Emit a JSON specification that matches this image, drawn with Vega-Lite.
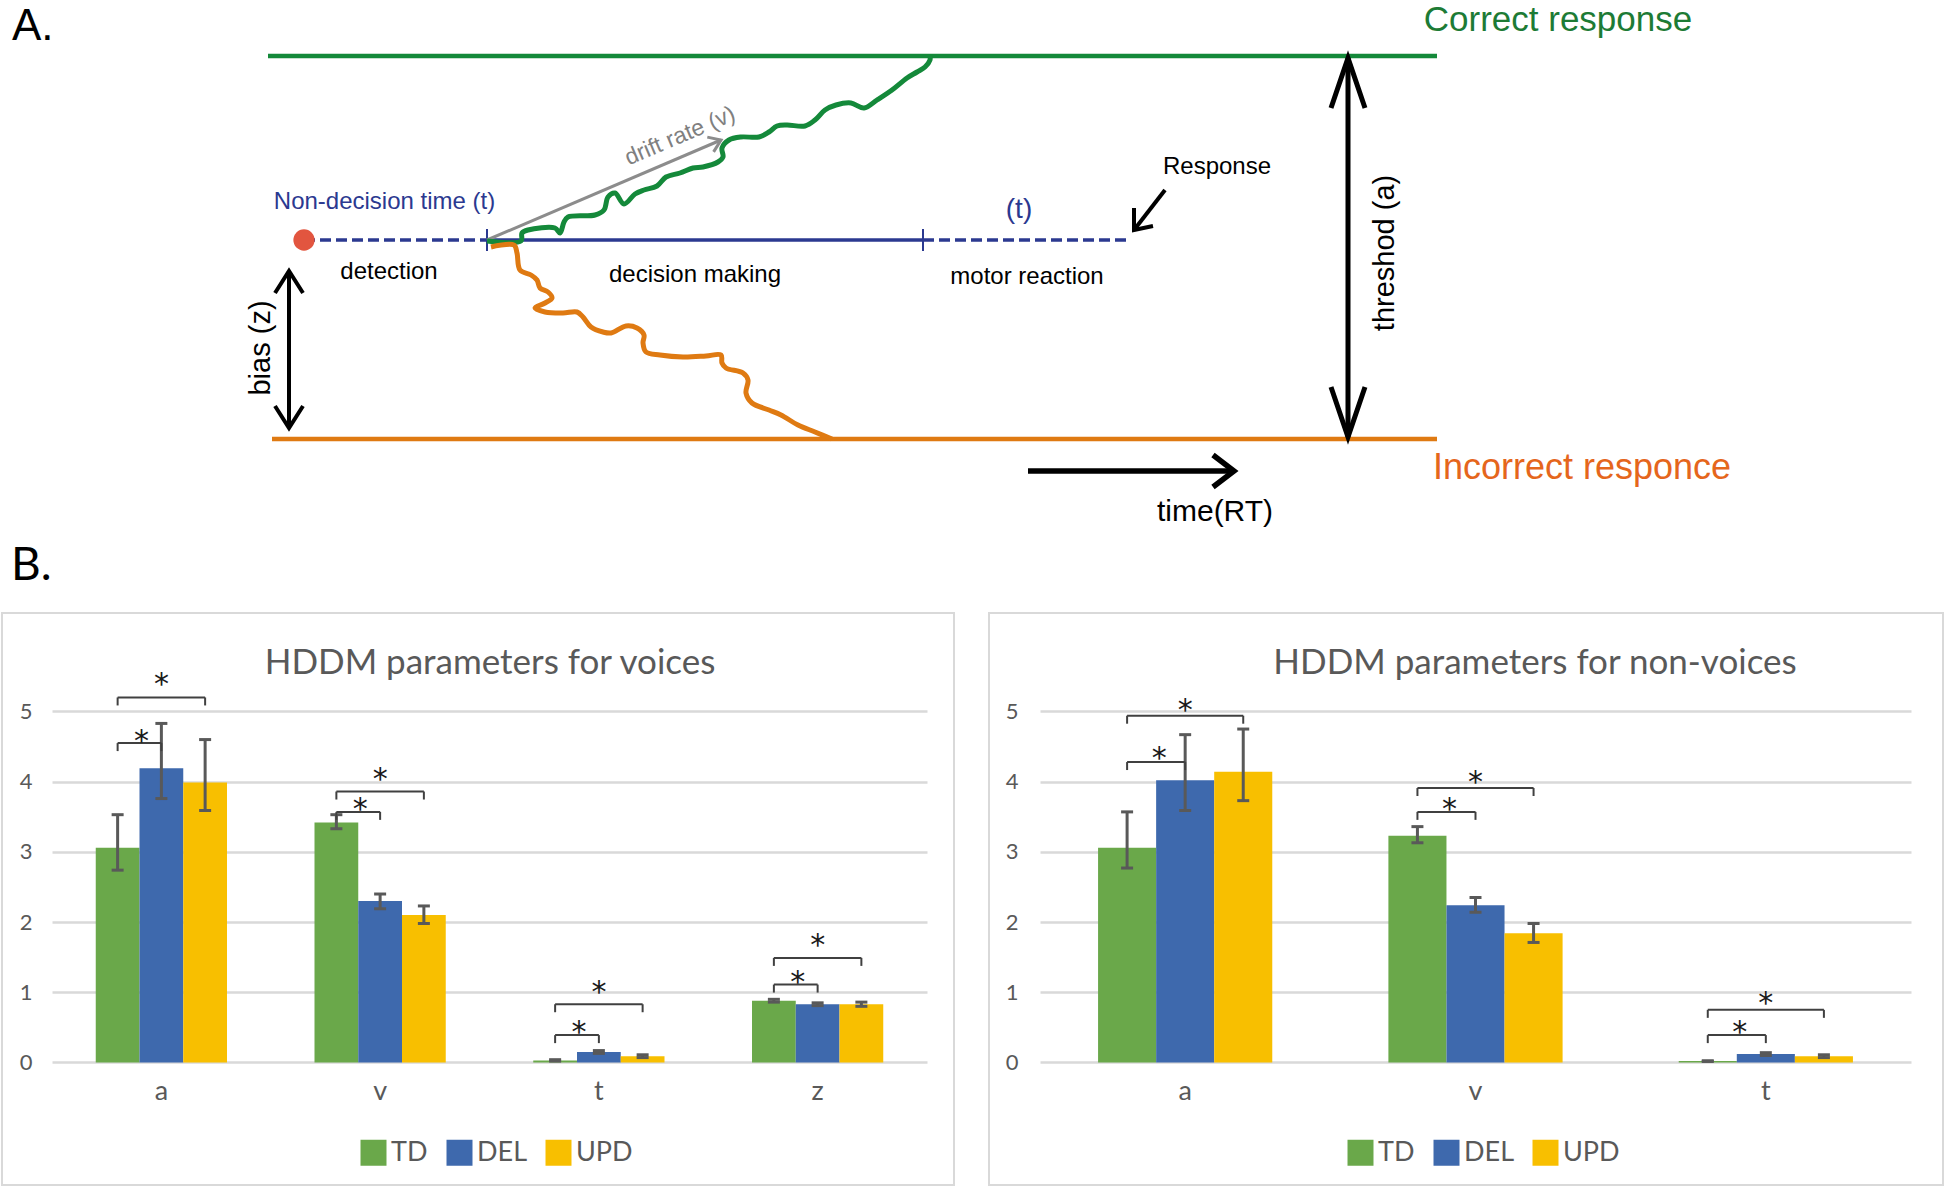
{
  "$schema": "https://vega.github.io/schema/vega-lite/v6.json",
  "padding": {"left": 1, "top": 0, "right": 0, "bottom": 0},
  "background": "white",
  "spacing": 12,
  "config": {"font": "Liberation Sans", "view": {"stroke": null}},
  "datasets": {
    "paths": [
      {"el": "upper", "i": 1, "x": -0.36, "y": 3.83}, {"el": "upper", "i": 2, "x": 11.33, "y": 3.83},
      {"el": "lower", "i": 1, "x": -0.32, "y": 0}, {"el": "lower", "i": 2, "x": 11.33, "y": 0},
      {"el": "detection", "i": 1, "x": 0, "y": 1.99}, {"el": "detection", "i": 2, "x": 1.83, "y": 1.99},
      {"el": "decision", "i": 1, "x": 1.83, "y": 1.99}, {"el": "decision", "i": 2, "x": 6.19, "y": 1.99},
      {"el": "motor", "i": 1, "x": 6.19, "y": 1.99}, {"el": "motor", "i": 2, "x": 8.26, "y": 1.99},
      {"el": "tick1", "i": 1, "x": 1.83, "y": 2.1}, {"el": "tick1", "i": 2, "x": 1.83, "y": 1.88},
      {"el": "tick2", "i": 1, "x": 6.19, "y": 2.1}, {"el": "tick2", "i": 2, "x": 6.19, "y": 1.88},
      {"el": "drift", "i": 1, "x": 1.83, "y": 1.99}, {"el": "drift", "i": 2, "x": 4.17, "y": 2.99},
      {"el": "drift_head", "i": 1, "x": 4.033, "y": 3.019}, {"el": "drift_head", "i": 2, "x": 4.17, "y": 2.99}, {"el": "drift_head", "i": 3, "x": 4.096, "y": 2.871},
      {"el": "bias", "i": 1, "x": -0.15, "y": 1.68}, {"el": "bias", "i": 2, "x": -0.15, "y": 0.11},
      {"el": "bias_head_top", "i": 1, "x": -0.29, "y": 1.46}, {"el": "bias_head_top", "i": 2, "x": -0.15, "y": 1.68}, {"el": "bias_head_top", "i": 3, "x": -0.01, "y": 1.46},
      {"el": "bias_head_bottom", "i": 1, "x": -0.29, "y": 0.33}, {"el": "bias_head_bottom", "i": 2, "x": -0.15, "y": 0.11}, {"el": "bias_head_bottom", "i": 3, "x": -0.01, "y": 0.33},
      {"el": "threshold", "i": 1, "x": 10.44, "y": 3.81}, {"el": "threshold", "i": 2, "x": 10.44, "y": 0.02},
      {"el": "threshold_head_top", "i": 1, "x": 10.27, "y": 3.31}, {"el": "threshold_head_top", "i": 2, "x": 10.44, "y": 3.81}, {"el": "threshold_head_top", "i": 3, "x": 10.61, "y": 3.31},
      {"el": "threshold_head_bottom", "i": 1, "x": 10.27, "y": 0.52}, {"el": "threshold_head_bottom", "i": 2, "x": 10.44, "y": 0.02}, {"el": "threshold_head_bottom", "i": 3, "x": 10.61, "y": 0.52},
      {"el": "time", "i": 1, "x": 7.24, "y": -0.32}, {"el": "time", "i": 2, "x": 9.3, "y": -0.32},
      {"el": "time_head", "i": 1, "x": 9.09, "y": -0.16}, {"el": "time_head", "i": 2, "x": 9.3, "y": -0.32}, {"el": "time_head", "i": 3, "x": 9.09, "y": -0.48},
      {"el": "response", "i": 1, "x": 8.61, "y": 2.49}, {"el": "response", "i": 2, "x": 8.3, "y": 2.09},
      {"el": "response_head", "i": 1, "x": 8.3, "y": 2.31}, {"el": "response_head", "i": 2, "x": 8.3, "y": 2.09}, {"el": "response_head", "i": 3, "x": 8.49, "y": 2.13},
      {"el": "correct", "i": 1, "x": 1.83, "y": 1.98}, {"el": "correct", "i": 2, "x": 2.17, "y": 1.98},
      {"el": "correct", "i": 3, "x": 2.18, "y": 2.06}, {"el": "correct", "i": 4, "x": 2.24, "y": 2.09},
      {"el": "correct", "i": 5, "x": 2.51, "y": 2.11}, {"el": "correct", "i": 6, "x": 2.56, "y": 2.06},
      {"el": "correct", "i": 7, "x": 2.6, "y": 2.17}, {"el": "correct", "i": 8, "x": 2.64, "y": 2.22},
      {"el": "correct", "i": 9, "x": 2.91, "y": 2.24}, {"el": "correct", "i": 10, "x": 3.0, "y": 2.29},
      {"el": "correct", "i": 11, "x": 3.04, "y": 2.42}, {"el": "correct", "i": 12, "x": 3.11, "y": 2.46},
      {"el": "correct", "i": 13, "x": 3.2, "y": 2.35}, {"el": "correct", "i": 14, "x": 3.31, "y": 2.45},
      {"el": "correct", "i": 15, "x": 3.4, "y": 2.49}, {"el": "correct", "i": 16, "x": 3.53, "y": 2.53},
      {"el": "correct", "i": 17, "x": 3.62, "y": 2.62}, {"el": "correct", "i": 18, "x": 3.76, "y": 2.66},
      {"el": "correct", "i": 19, "x": 3.89, "y": 2.71}, {"el": "correct", "i": 20, "x": 3.99, "y": 2.72},
      {"el": "correct", "i": 21, "x": 4.14, "y": 2.77}, {"el": "correct", "i": 22, "x": 4.19, "y": 2.82},
      {"el": "correct", "i": 23, "x": 4.18, "y": 2.91}, {"el": "correct", "i": 24, "x": 4.25, "y": 2.99},
      {"el": "correct", "i": 25, "x": 4.37, "y": 3.02}, {"el": "correct", "i": 26, "x": 4.55, "y": 3.02},
      {"el": "correct", "i": 27, "x": 4.65, "y": 3.07}, {"el": "correct", "i": 28, "x": 4.73, "y": 3.13},
      {"el": "correct", "i": 29, "x": 4.83, "y": 3.14}, {"el": "correct", "i": 30, "x": 5.01, "y": 3.13},
      {"el": "correct", "i": 31, "x": 5.11, "y": 3.19}, {"el": "correct", "i": 32, "x": 5.21, "y": 3.29},
      {"el": "correct", "i": 33, "x": 5.32, "y": 3.34}, {"el": "correct", "i": 34, "x": 5.47, "y": 3.36},
      {"el": "correct", "i": 35, "x": 5.6, "y": 3.31}, {"el": "correct", "i": 36, "x": 5.73, "y": 3.39},
      {"el": "correct", "i": 37, "x": 5.88, "y": 3.49}, {"el": "correct", "i": 38, "x": 6.03, "y": 3.61},
      {"el": "correct", "i": 39, "x": 6.13, "y": 3.67}, {"el": "correct", "i": 40, "x": 6.21, "y": 3.72},
      {"el": "correct", "i": 41, "x": 6.26, "y": 3.79}, {"el": "correct", "i": 42, "x": 6.26, "y": 3.83},
      {"el": "incorrect", "i": 1, "x": 1.87, "y": 1.92}, {"el": "incorrect", "i": 2, "x": 2.1, "y": 1.94},
      {"el": "incorrect", "i": 3, "x": 2.13, "y": 1.86}, {"el": "incorrect", "i": 4, "x": 2.16, "y": 1.69},
      {"el": "incorrect", "i": 5, "x": 2.27, "y": 1.64}, {"el": "incorrect", "i": 6, "x": 2.33, "y": 1.59},
      {"el": "incorrect", "i": 7, "x": 2.36, "y": 1.51}, {"el": "incorrect", "i": 8, "x": 2.44, "y": 1.47},
      {"el": "incorrect", "i": 9, "x": 2.48, "y": 1.41}, {"el": "incorrect", "i": 10, "x": 2.41, "y": 1.36},
      {"el": "incorrect", "i": 11, "x": 2.31, "y": 1.31}, {"el": "incorrect", "i": 12, "x": 2.41, "y": 1.27},
      {"el": "incorrect", "i": 13, "x": 2.59, "y": 1.26}, {"el": "incorrect", "i": 14, "x": 2.73, "y": 1.27},
      {"el": "incorrect", "i": 15, "x": 2.79, "y": 1.22}, {"el": "incorrect", "i": 16, "x": 2.87, "y": 1.12},
      {"el": "incorrect", "i": 17, "x": 2.99, "y": 1.07}, {"el": "incorrect", "i": 18, "x": 3.07, "y": 1.06},
      {"el": "incorrect", "i": 19, "x": 3.22, "y": 1.13}, {"el": "incorrect", "i": 20, "x": 3.33, "y": 1.11},
      {"el": "incorrect", "i": 21, "x": 3.4, "y": 1.04}, {"el": "incorrect", "i": 22, "x": 3.39, "y": 0.96},
      {"el": "incorrect", "i": 23, "x": 3.42, "y": 0.87}, {"el": "incorrect", "i": 24, "x": 3.56, "y": 0.84},
      {"el": "incorrect", "i": 25, "x": 3.79, "y": 0.82}, {"el": "incorrect", "i": 26, "x": 4.02, "y": 0.83},
      {"el": "incorrect", "i": 27, "x": 4.17, "y": 0.84}, {"el": "incorrect", "i": 28, "x": 4.18, "y": 0.76},
      {"el": "incorrect", "i": 29, "x": 4.22, "y": 0.71}, {"el": "incorrect", "i": 30, "x": 4.39, "y": 0.66},
      {"el": "incorrect", "i": 31, "x": 4.44, "y": 0.59}, {"el": "incorrect", "i": 32, "x": 4.42, "y": 0.46},
      {"el": "incorrect", "i": 33, "x": 4.48, "y": 0.36}, {"el": "incorrect", "i": 34, "x": 4.65, "y": 0.29},
      {"el": "incorrect", "i": 35, "x": 4.77, "y": 0.24}, {"el": "incorrect", "i": 36, "x": 4.94, "y": 0.14},
      {"el": "incorrect", "i": 37, "x": 5.11, "y": 0.07}, {"el": "incorrect", "i": 38, "x": 5.28, "y": 0.0}
    ],
    "onset": [{"x": 0, "y": 1.99}],
    "labels": [
      {"label": "A.", "x": -2.92, "y": 4.12},
      {"label": "B.", "x": -2.93, "y": -1.265},
      {"label": "Correct response", "x": 12.54, "y": 4.19},
      {"label": "Incorrect responce", "x": 12.78, "y": -0.29},
      {"label": "Non-decision time (t)", "x": 0.805, "y": 2.37},
      {"label": "(t)", "x": 7.15, "y": 2.29},
      {"label": "detection", "x": 0.85, "y": 1.67},
      {"label": "decision making", "x": 3.91, "y": 1.64},
      {"label": "motor reaction", "x": 7.23, "y": 1.62},
      {"label": "Response", "x": 9.13, "y": 2.72},
      {"label": "time(RT)", "x": 9.11, "y": -0.73},
      {"label": "bias (z)", "x": -0.43, "y": 0.91},
      {"label": "threshod (a)", "x": 10.81, "y": 1.86},
      {"label": "drift rate (v)", "x": 3.76, "y": 3.03}
    ],
    "bars": [
      {"chart": "voices", "param": "a", "group": "TD", "value": 3.06, "lo": 2.74, "hi": 3.53},
      {"chart": "voices", "param": "a", "group": "DEL", "value": 4.19, "lo": 3.76, "hi": 4.83},
      {"chart": "voices", "param": "a", "group": "UPD", "value": 3.99, "lo": 3.59, "hi": 4.6},
      {"chart": "voices", "param": "v", "group": "TD", "value": 3.42, "lo": 3.33, "hi": 3.53},
      {"chart": "voices", "param": "v", "group": "DEL", "value": 2.3, "lo": 2.19, "hi": 2.4},
      {"chart": "voices", "param": "v", "group": "UPD", "value": 2.1, "lo": 1.98, "hi": 2.23},
      {"chart": "voices", "param": "t", "group": "TD", "value": 0.03, "lo": 0.02, "hi": 0.04},
      {"chart": "voices", "param": "t", "group": "DEL", "value": 0.15, "lo": 0.13, "hi": 0.17},
      {"chart": "voices", "param": "t", "group": "UPD", "value": 0.09, "lo": 0.07, "hi": 0.11},
      {"chart": "voices", "param": "z", "group": "TD", "value": 0.88, "lo": 0.86, "hi": 0.9},
      {"chart": "voices", "param": "z", "group": "DEL", "value": 0.83, "lo": 0.81, "hi": 0.85},
      {"chart": "voices", "param": "z", "group": "UPD", "value": 0.83, "lo": 0.8, "hi": 0.86},
      {"chart": "non-voices", "param": "a", "group": "TD", "value": 3.06, "lo": 2.77, "hi": 3.57},
      {"chart": "non-voices", "param": "a", "group": "DEL", "value": 4.02, "lo": 3.59, "hi": 4.67},
      {"chart": "non-voices", "param": "a", "group": "UPD", "value": 4.14, "lo": 3.73, "hi": 4.75},
      {"chart": "non-voices", "param": "v", "group": "TD", "value": 3.23, "lo": 3.13, "hi": 3.36},
      {"chart": "non-voices", "param": "v", "group": "DEL", "value": 2.24, "lo": 2.14, "hi": 2.35},
      {"chart": "non-voices", "param": "v", "group": "UPD", "value": 1.84, "lo": 1.71, "hi": 1.98},
      {"chart": "non-voices", "param": "t", "group": "TD", "value": 0.02, "lo": 0.015, "hi": 0.025},
      {"chart": "non-voices", "param": "t", "group": "DEL", "value": 0.12, "lo": 0.1, "hi": 0.14},
      {"chart": "non-voices", "param": "t", "group": "UPD", "value": 0.09, "lo": 0.07, "hi": 0.11}
    ],
    "brackets": [
      {"chart": "voices", "id": "a1", "param": "a", "group": "TD", "y": 4.55}, {"chart": "voices", "id": "a1", "param": "a", "group": "DEL", "y": 4.55},
      {"chart": "voices", "id": "a2", "param": "a", "group": "TD", "y": 5.2}, {"chart": "voices", "id": "a2", "param": "a", "group": "UPD", "y": 5.2},
      {"chart": "voices", "id": "v1", "param": "v", "group": "TD", "y": 3.57}, {"chart": "voices", "id": "v1", "param": "v", "group": "DEL", "y": 3.57},
      {"chart": "voices", "id": "v2", "param": "v", "group": "TD", "y": 3.86}, {"chart": "voices", "id": "v2", "param": "v", "group": "UPD", "y": 3.86},
      {"chart": "voices", "id": "t1", "param": "t", "group": "TD", "y": 0.39}, {"chart": "voices", "id": "t1", "param": "t", "group": "DEL", "y": 0.39},
      {"chart": "voices", "id": "t2", "param": "t", "group": "TD", "y": 0.83}, {"chart": "voices", "id": "t2", "param": "t", "group": "UPD", "y": 0.83},
      {"chart": "voices", "id": "z1", "param": "z", "group": "TD", "y": 1.11}, {"chart": "voices", "id": "z1", "param": "z", "group": "DEL", "y": 1.11},
      {"chart": "voices", "id": "z2", "param": "z", "group": "TD", "y": 1.49}, {"chart": "voices", "id": "z2", "param": "z", "group": "UPD", "y": 1.49},
      {"chart": "non-voices", "id": "a1", "param": "a", "group": "TD", "y": 4.28}, {"chart": "non-voices", "id": "a1", "param": "a", "group": "DEL", "y": 4.28},
      {"chart": "non-voices", "id": "a2", "param": "a", "group": "TD", "y": 4.94}, {"chart": "non-voices", "id": "a2", "param": "a", "group": "UPD", "y": 4.94},
      {"chart": "non-voices", "id": "v1", "param": "v", "group": "TD", "y": 3.57}, {"chart": "non-voices", "id": "v1", "param": "v", "group": "DEL", "y": 3.57},
      {"chart": "non-voices", "id": "v2", "param": "v", "group": "TD", "y": 3.91}, {"chart": "non-voices", "id": "v2", "param": "v", "group": "UPD", "y": 3.91},
      {"chart": "non-voices", "id": "t1", "param": "t", "group": "TD", "y": 0.39}, {"chart": "non-voices", "id": "t1", "param": "t", "group": "DEL", "y": 0.39},
      {"chart": "non-voices", "id": "t2", "param": "t", "group": "TD", "y": 0.75}, {"chart": "non-voices", "id": "t2", "param": "t", "group": "UPD", "y": 0.75}
    ],
    "stars": [
      {"chart": "voices", "pair": "TD-DEL", "param": "a", "group": "DEL", "y": 4.67},
      {"chart": "voices", "pair": "TD-UPD", "param": "a", "group": "DEL", "y": 5.47},
      {"chart": "voices", "pair": "TD-DEL", "param": "v", "group": "DEL", "y": 3.7},
      {"chart": "voices", "pair": "TD-UPD", "param": "v", "group": "DEL", "y": 4.13},
      {"chart": "voices", "pair": "TD-DEL", "param": "t", "group": "DEL", "y": 0.52},
      {"chart": "voices", "pair": "TD-UPD", "param": "t", "group": "DEL", "y": 1.09},
      {"chart": "voices", "pair": "TD-DEL", "param": "z", "group": "DEL", "y": 1.23},
      {"chart": "voices", "pair": "TD-UPD", "param": "z", "group": "DEL", "y": 1.76},
      {"chart": "non-voices", "pair": "TD-DEL", "param": "a", "group": "DEL", "y": 4.42},
      {"chart": "non-voices", "pair": "TD-UPD", "param": "a", "group": "DEL", "y": 5.11},
      {"chart": "non-voices", "pair": "TD-DEL", "param": "v", "group": "DEL", "y": 3.7},
      {"chart": "non-voices", "pair": "TD-UPD", "param": "v", "group": "DEL", "y": 4.08},
      {"chart": "non-voices", "pair": "TD-DEL", "param": "t", "group": "DEL", "y": 0.52},
      {"chart": "non-voices", "pair": "TD-UPD", "param": "t", "group": "DEL", "y": 0.94}
    ]
  },
  "vconcat": [
    {
      "width": 1944,
      "height": 600,
      "view": {"stroke": null},
      "encoding": {
        "x": {"field": "x", "type": "quantitative", "scale": {"domain": [-3.02, 16.42], "nice": false, "zero": false}, "axis": null},
        "y": {"field": "y", "type": "quantitative", "scale": {"domain": [-1.61, 4.39], "nice": false, "zero": false}, "axis": null}
      },
      "layer": [
        {"data": {"name": "paths"}, "transform": [{"filter": {"field": "el", "equal": "upper"}}],
         "mark": {"type": "line", "color": "#14893a", "strokeWidth": 4.5}, "encoding": {"detail": {"field": "el"}, "order": {"field": "i", "type": "quantitative"}}},
        {"data": {"name": "paths"}, "transform": [{"filter": {"field": "el", "equal": "lower"}}],
         "mark": {"type": "line", "color": "#df7a12", "strokeWidth": 4.5}, "encoding": {"detail": {"field": "el"}, "order": {"field": "i", "type": "quantitative"}}},
        {"data": {"name": "paths"}, "transform": [{"filter": {"field": "el", "oneOf": ["detection", "motor"]}}],
         "mark": {"type": "line", "color": "#2b3990", "strokeWidth": 3.5, "strokeDash": [11, 5]}, "encoding": {"detail": {"field": "el"}, "order": {"field": "i", "type": "quantitative"}}},
        {"data": {"name": "paths"}, "transform": [{"filter": {"field": "el", "oneOf": ["decision"]}}],
         "mark": {"type": "line", "color": "#2b3990", "strokeWidth": 3.5}, "encoding": {"detail": {"field": "el"}, "order": {"field": "i", "type": "quantitative"}}},
        {"data": {"name": "paths"}, "transform": [{"filter": {"field": "el", "oneOf": ["tick1", "tick2"]}}],
         "mark": {"type": "line", "color": "#2b3990", "strokeWidth": 2}, "encoding": {"detail": {"field": "el"}, "order": {"field": "i", "type": "quantitative"}}},
        {"data": {"name": "paths"}, "transform": [{"filter": {"field": "el", "oneOf": ["drift", "drift_head"]}}],
         "mark": {"type": "line", "color": "#8c8c8c", "strokeWidth": 3, "strokeJoin": "miter"}, "encoding": {"detail": {"field": "el"}, "order": {"field": "i", "type": "quantitative"}}},
        {"data": {"name": "paths"}, "transform": [{"filter": {"field": "el", "equal": "correct"}}],
         "mark": {"type": "line", "color": "#14893a", "strokeWidth": 5, "interpolate": "catmull-rom", "strokeJoin": "round"}, "encoding": {"detail": {"field": "el"}, "order": {"field": "i", "type": "quantitative"}}},
        {"data": {"name": "paths"}, "transform": [{"filter": {"field": "el", "equal": "incorrect"}}],
         "mark": {"type": "line", "color": "#df7a12", "strokeWidth": 5, "interpolate": "catmull-rom", "strokeJoin": "round"}, "encoding": {"detail": {"field": "el"}, "order": {"field": "i", "type": "quantitative"}}},
        {"data": {"name": "paths"}, "transform": [{"filter": {"field": "el", "oneOf": ["bias", "bias_head_top", "bias_head_bottom"]}}],
         "mark": {"type": "line", "color": "#000000", "strokeWidth": 4, "strokeJoin": "miter"}, "encoding": {"detail": {"field": "el"}, "order": {"field": "i", "type": "quantitative"}}},
        {"data": {"name": "paths"}, "transform": [{"filter": {"field": "el", "oneOf": ["threshold", "threshold_head_top", "threshold_head_bottom"]}}],
         "mark": {"type": "line", "color": "#000000", "strokeWidth": 5, "strokeJoin": "miter"}, "encoding": {"detail": {"field": "el"}, "order": {"field": "i", "type": "quantitative"}}},
        {"data": {"name": "paths"}, "transform": [{"filter": {"field": "el", "oneOf": ["time", "time_head"]}}],
         "mark": {"type": "line", "color": "#000000", "strokeWidth": 5.5, "strokeJoin": "miter"}, "encoding": {"detail": {"field": "el"}, "order": {"field": "i", "type": "quantitative"}}},
        {"data": {"name": "paths"}, "transform": [{"filter": {"field": "el", "oneOf": ["response", "response_head"]}}],
         "mark": {"type": "line", "color": "#000000", "strokeWidth": 4, "strokeJoin": "miter"}, "encoding": {"detail": {"field": "el"}, "order": {"field": "i", "type": "quantitative"}}},
        {"data": {"name": "onset"}, "mark": {"type": "point", "filled": true, "size": 452, "color": "#e2553f", "opacity": 1}},
        {"data": {"name": "labels"}, "transform": [{"filter": {"field": "label", "equal": "A."}}],
         "mark": {"type": "text", "align": "left", "baseline": "middle", "fontSize": 44, "color": "#000000"}, "encoding": {"text": {"field": "label"}}},
        {"data": {"name": "labels"}, "transform": [{"filter": {"field": "label", "equal": "B."}}],
         "mark": {"type": "text", "align": "left", "baseline": "middle", "fontSize": 46, "font": "Lato", "color": "#000000"}, "encoding": {"text": {"field": "label"}}},
        {"data": {"name": "labels"}, "transform": [{"filter": {"field": "label", "equal": "Correct response"}}],
         "mark": {"type": "text", "align": "center", "baseline": "middle", "fontSize": 35, "color": "#1d7b35"}, "encoding": {"text": {"field": "label"}}},
        {"data": {"name": "labels"}, "transform": [{"filter": {"field": "label", "equal": "Incorrect responce"}}],
         "mark": {"type": "text", "align": "center", "baseline": "middle", "fontSize": 36, "color": "#e5661c"}, "encoding": {"text": {"field": "label"}}},
        {"data": {"name": "labels"}, "transform": [{"filter": {"field": "label", "equal": "Non-decision time (t)"}}],
         "mark": {"type": "text", "align": "center", "baseline": "middle", "fontSize": 24, "color": "#2b3990"}, "encoding": {"text": {"field": "label"}}},
        {"data": {"name": "labels"}, "transform": [{"filter": {"field": "label", "equal": "(t)"}}],
         "mark": {"type": "text", "align": "center", "baseline": "middle", "fontSize": 28, "color": "#2b3990"}, "encoding": {"text": {"field": "label"}}},
        {"data": {"name": "labels"}, "transform": [{"filter": {"field": "label", "oneOf": ["detection", "decision making", "motor reaction", "Response"]}}],
         "mark": {"type": "text", "align": "center", "baseline": "middle", "fontSize": 24, "color": "#000000"}, "encoding": {"text": {"field": "label"}}},
        {"data": {"name": "labels"}, "transform": [{"filter": {"field": "label", "equal": "time(RT)"}}],
         "mark": {"type": "text", "align": "center", "baseline": "middle", "fontSize": 30, "color": "#000000"}, "encoding": {"text": {"field": "label"}}},
        {"data": {"name": "labels"}, "transform": [{"filter": {"field": "label", "oneOf": ["bias (z)", "threshod (a)"]}}],
         "mark": {"type": "text", "align": "center", "baseline": "middle", "fontSize": 29, "angle": 270, "color": "#000000"}, "encoding": {"text": {"field": "label"}}},
        {"data": {"name": "labels"}, "transform": [{"filter": {"field": "label", "equal": "drift rate (v)"}}],
         "mark": {"type": "text", "align": "center", "baseline": "middle", "fontSize": 23, "angle": 337, "color": "#808080"}, "encoding": {"text": {"field": "label"}}}
      ]
    },
    {
      "hconcat": [
        {
          "width": 952,
          "height": 572,
          "view": {"stroke": "#d9d9d9", "strokeWidth": 2},
          "title": {"text": "HDDM parameters for voices", "font": "Lato", "fontSize": 35, "fontWeight": "normal", "color": "#595959", "anchor": "middle", "frame": "group", "baseline": "middle", "offset": -85, "dx": 12},
          "encoding": {
            "x": {"field": "param", "type": "nominal", "title": null, "scale": {"domain": ["a", "v", "t", "z"], "range": [50, 925], "paddingInner": 0, "paddingOuter": 0},
                  "axis": {"orient": "bottom", "offset": -122.5, "domain": false, "ticks": false, "tickSize": 0, "grid": false, "labelAngle": 0, "labelPadding": 29, "labelBaseline": "middle", "labelFont": "Lato", "labelFontSize": 27, "labelColor": "#595959", "title": null}},
            "xOffset": {"field": "group", "type": "nominal", "scale": {"domain": ["TD", "DEL", "UPD"], "paddingInner": 0, "paddingOuter": 1.245}}
          },
          "layer": [
            {"data": {"name": "bars"}, "transform": [{"filter": {"field": "chart", "equal": "voices"}}],
             "mark": {"type": "bar"},
             "encoding": {
               "y": {"field": "value", "type": "quantitative", "title": null, "scale": {"domain": [-1.745, 6.403], "nice": false, "zero": false},
                     "axis": {"values": [0, 1, 2, 3, 4, 5], "format": "d", "grid": true, "gridColor": "#d9d9d9", "gridWidth": 2.5, "domain": false, "ticks": false, "tickSize": 0, "labelPadding": 0, "offset": -30, "labelFont": "Lato", "labelFontSize": 22, "labelColor": "#595959", "title": null}},
               "color": {"field": "group", "type": "nominal", "scale": {"domain": ["TD", "DEL", "UPD"], "range": ["#6aa84a", "#3e69ad", "#f8bf00"]},
                         "legend": {"orient": "none", "legendX": 358, "legendY": 526, "direction": "horizontal", "title": null, "symbolType": "square", "symbolSize": 676, "symbolStrokeWidth": 0, "symbolOpacity": 1, "labelFont": "Lato", "labelFontSize": 27, "labelColor": "#595959", "labelOffset": 4, "columnPadding": 18, "padding": 0}}
             }},
            {"data": {"name": "bars"}, "transform": [{"filter": {"field": "chart", "equal": "voices"}}],
             "mark": {"type": "rule", "color": "#595959", "strokeWidth": 3},
             "encoding": {"y": {"field": "lo", "type": "quantitative", "title": null}, "y2": {"field": "hi"}}},
            {"data": {"name": "bars"}, "transform": [{"filter": {"field": "chart", "equal": "voices"}}],
             "mark": {"type": "tick", "orient": "horizontal", "color": "#595959", "thickness": 3, "size": 12, "opacity": 1},
             "encoding": {"y": {"field": "lo", "type": "quantitative", "title": null}}},
            {"data": {"name": "bars"}, "transform": [{"filter": {"field": "chart", "equal": "voices"}}],
             "mark": {"type": "tick", "orient": "horizontal", "color": "#595959", "thickness": 3, "size": 12, "opacity": 1},
             "encoding": {"y": {"field": "hi", "type": "quantitative", "title": null}}},
            {"data": {"name": "brackets"}, "transform": [{"filter": {"field": "chart", "equal": "voices"}}],
             "mark": {"type": "line", "color": "#404040", "strokeWidth": 2},
             "encoding": {"y": {"field": "y", "type": "quantitative", "title": null}, "detail": {"field": "id"}}},
            {"data": {"name": "brackets"}, "transform": [{"filter": {"field": "chart", "equal": "voices"}}],
             "mark": {"type": "tick", "orient": "vertical", "color": "#404040", "thickness": 2, "size": 8, "yOffset": 4, "opacity": 1},
             "encoding": {"y": {"field": "y", "type": "quantitative", "title": null}}},
            {"data": {"name": "stars"}, "transform": [{"filter": "datum.chart === 'voices' && datum.pair === 'TD-DEL'"}],
             "mark": {"type": "text", "text": "*", "font": "DejaVu Sans", "fontSize": 30, "color": "#1a1a1a", "baseline": "middle", "dx": -20, "dy": 7},
             "encoding": {"y": {"field": "y", "type": "quantitative", "title": null}}},
            {"data": {"name": "stars"}, "transform": [{"filter": "datum.chart === 'voices' && datum.pair === 'TD-UPD'"}],
             "mark": {"type": "text", "text": "*", "font": "DejaVu Sans", "fontSize": 30, "color": "#1a1a1a", "baseline": "middle", "dy": 7},
             "encoding": {"y": {"field": "y", "type": "quantitative", "title": null}}}
          ]
        },
        {
          "width": 954,
          "height": 572,
          "view": {"stroke": "#d9d9d9", "strokeWidth": 2},
          "title": {"text": "HDDM parameters for non-voices", "font": "Lato", "fontSize": 35, "fontWeight": "normal", "color": "#595959", "anchor": "middle", "frame": "group", "baseline": "middle", "offset": -85, "dx": 69},
          "encoding": {
            "x": {"field": "param", "type": "nominal", "title": null, "scale": {"domain": ["a", "v", "t"], "range": [51, 922], "paddingInner": 0, "paddingOuter": 0},
                  "axis": {"orient": "bottom", "offset": -122.5, "domain": false, "ticks": false, "tickSize": 0, "grid": false, "labelAngle": 0, "labelPadding": 29, "labelBaseline": "middle", "labelFont": "Lato", "labelFontSize": 27, "labelColor": "#595959", "title": null}},
            "xOffset": {"field": "group", "type": "nominal", "scale": {"domain": ["TD", "DEL", "UPD"], "paddingInner": 0, "paddingOuter": 1.245}}
          },
          "layer": [
            {"data": {"name": "bars"}, "transform": [{"filter": {"field": "chart", "equal": "non-voices"}}],
             "mark": {"type": "bar"},
             "encoding": {
               "y": {"field": "value", "type": "quantitative", "title": null, "scale": {"domain": [-1.745, 6.403], "nice": false, "zero": false},
                     "axis": {"values": [0, 1, 2, 3, 4, 5], "format": "d", "grid": true, "gridColor": "#d9d9d9", "gridWidth": 2.5, "domain": false, "ticks": false, "tickSize": 0, "labelPadding": 0, "offset": -29, "labelFont": "Lato", "labelFontSize": 22, "labelColor": "#595959", "title": null}},
               "color": {"field": "group", "type": "nominal", "scale": {"domain": ["TD", "DEL", "UPD"], "range": ["#6aa84a", "#3e69ad", "#f8bf00"]},
                         "legend": {"orient": "none", "legendX": 358, "legendY": 526, "direction": "horizontal", "title": null, "symbolType": "square", "symbolSize": 676, "symbolStrokeWidth": 0, "symbolOpacity": 1, "labelFont": "Lato", "labelFontSize": 27, "labelColor": "#595959", "labelOffset": 4, "columnPadding": 18, "padding": 0}}
             }},
            {"data": {"name": "bars"}, "transform": [{"filter": {"field": "chart", "equal": "non-voices"}}],
             "mark": {"type": "rule", "color": "#595959", "strokeWidth": 3},
             "encoding": {"y": {"field": "lo", "type": "quantitative", "title": null}, "y2": {"field": "hi"}}},
            {"data": {"name": "bars"}, "transform": [{"filter": {"field": "chart", "equal": "non-voices"}}],
             "mark": {"type": "tick", "orient": "horizontal", "color": "#595959", "thickness": 3, "size": 12, "opacity": 1},
             "encoding": {"y": {"field": "lo", "type": "quantitative", "title": null}}},
            {"data": {"name": "bars"}, "transform": [{"filter": {"field": "chart", "equal": "non-voices"}}],
             "mark": {"type": "tick", "orient": "horizontal", "color": "#595959", "thickness": 3, "size": 12, "opacity": 1},
             "encoding": {"y": {"field": "hi", "type": "quantitative", "title": null}}},
            {"data": {"name": "brackets"}, "transform": [{"filter": {"field": "chart", "equal": "non-voices"}}],
             "mark": {"type": "line", "color": "#404040", "strokeWidth": 2},
             "encoding": {"y": {"field": "y", "type": "quantitative", "title": null}, "detail": {"field": "id"}}},
            {"data": {"name": "brackets"}, "transform": [{"filter": {"field": "chart", "equal": "non-voices"}}],
             "mark": {"type": "tick", "orient": "vertical", "color": "#404040", "thickness": 2, "size": 8, "yOffset": 4, "opacity": 1},
             "encoding": {"y": {"field": "y", "type": "quantitative", "title": null}}},
            {"data": {"name": "stars"}, "transform": [{"filter": "datum.chart === 'non-voices' && datum.pair === 'TD-DEL'"}],
             "mark": {"type": "text", "text": "*", "font": "DejaVu Sans", "fontSize": 30, "color": "#1a1a1a", "baseline": "middle", "dx": -26, "dy": 7},
             "encoding": {"y": {"field": "y", "type": "quantitative", "title": null}}},
            {"data": {"name": "stars"}, "transform": [{"filter": "datum.chart === 'non-voices' && datum.pair === 'TD-UPD'"}],
             "mark": {"type": "text", "text": "*", "font": "DejaVu Sans", "fontSize": 30, "color": "#1a1a1a", "baseline": "middle", "dy": 7},
             "encoding": {"y": {"field": "y", "type": "quantitative", "title": null}}}
          ]
        }
      ],
      "spacing": 33,
      "resolve": {"scale": {"color": "independent", "xOffset": "independent"}, "legend": {"color": "independent"}}
    }
  ]
}
